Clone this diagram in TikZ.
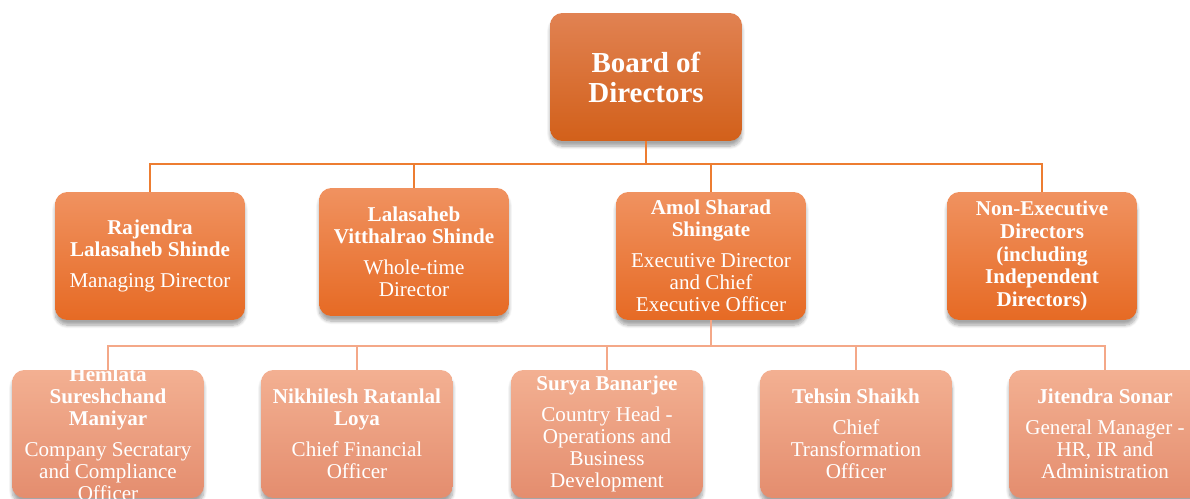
\documentclass[tikz,border=0pt]{standalone}
\usepackage{fontspec}
\setmainfont{Liberation Serif}
\usetikzlibrary{shadows.blur}

\definecolor{boardtop}{RGB}{225,130,82}
\definecolor{boardbottom}{RGB}{210,96,26}
\definecolor{dirtop}{RGB}{240,146,96}
\definecolor{dirbottom}{RGB}{230,106,36}
\definecolor{offtop}{RGB}{243,176,146}
\definecolor{offbottom}{RGB}{228,141,110}
\definecolor{linkorange}{RGB}{237,125,49}
\definecolor{linksalmon}{RGB}{244,168,136}

\begin{document}
\begin{tikzpicture}[x=0.02cm, y=-0.02cm,
    box/.style={rectangle, rounded corners=7pt, minimum width=3.84cm, minimum height=2.56cm,
        blur shadow={shadow blur steps=8, shadow xshift=0pt, shadow yshift=-3pt, shadow opacity=35}},
    board/.style={box, top color=boardtop, bottom color=boardbottom},
    director/.style={box, minimum width=3.8cm, top color=dirtop, bottom color=dirbottom},
    officer/.style={box, top color=offtop, bottom color=offbottom},
    words/.style={text=white, align=center, inner sep=0pt, font=\fontsize{12}{12.5}\selectfont},
    link/.style={draw=linkorange, line width=1.6pt},
    sublink/.style={draw=linksalmon, line width=1.6pt}]
    \useasboundingbox (0,0) rectangle (1190,498);

    \node[board] (board) at (646,77) {};
    \node[words, font=\fontsize{16.5}{17}\selectfont\bfseries] at (board) {Board of\\Directors};

    \node[director] (rajendra) at (150,256) {};
    \node[director] (lalasaheb) at (414,252) {};
    \node[director] (amol) at (711,256) {};
    \node[director] (nonexec) at (1042,256) {};

    \node[officer] (hemlata) at (108,434) {};
    \node[officer] (nikhilesh) at (357,434) {};
    \node[officer] (surya) at (607,434) {};
    \node[officer] (tehsin) at (856,434) {};
    \node[officer] (jitendra) at (1105,434) {};

    \node[words] at (rajendra) {\textbf{Rajendra}\\\textbf{Lalasaheb Shinde}\\[5pt]Managing Director};
    \node[words] at (lalasaheb) {\textbf{Lalasaheb}\\\textbf{Vitthalrao Shinde}\\[5pt]Whole-time\\Director};
    \node[words] at (amol) {\textbf{Amol Sharad}\\\textbf{Shingate}\\[5pt]Executive Director\\and Chief\\Executive Officer};
    \node[words, font=\fontsize{12}{13}\selectfont\bfseries] at (nonexec) {Non-Executive\\Directors\\(including\\Independent\\Directors)};

    \node[words] at (hemlata) {\textbf{Hemlata}\\\textbf{Sureshchand}\\\textbf{Maniyar}\\[5pt]Company Secratary\\and Compliance\\Officer};
    \node[words] at (nikhilesh) {\textbf{Nikhilesh Ratanlal}\\\textbf{Loya}\\[5pt]Chief Financial\\Officer};
    \node[words] at (surya) {\textbf{Surya Banarjee}\\[5pt]Country Head -\\Operations and\\Business\\Development};
    \node[words] at (tehsin) {\textbf{Tehsin Shaikh}\\[5pt]Chief\\Transformation\\Officer};
    \node[words] at (jitendra) {\textbf{Jitendra Sonar}\\[5pt]General Manager -\\HR, IR and\\Administration};

    \coordinate (split) at (646,164);
    \draw[link] (board.south) -- (split);
    \draw[link] (split) -| (rajendra.north);
    \draw[link] (split) -| (lalasaheb.north);
    \draw[link] (split) -| (amol.north);
    \draw[link] (split) -| (nonexec.north);

    \coordinate (branch) at (711,346);
    \draw[sublink] (amol.south) -- (branch);
    \draw[sublink] (branch) -| (hemlata.north);
    \draw[sublink] (branch) -| (nikhilesh.north);
    \draw[sublink] (branch) -| (surya.north);
    \draw[sublink] (branch) -| (tehsin.north);
    \draw[sublink] (branch) -| (jitendra.north);
\end{tikzpicture}
\end{document}
